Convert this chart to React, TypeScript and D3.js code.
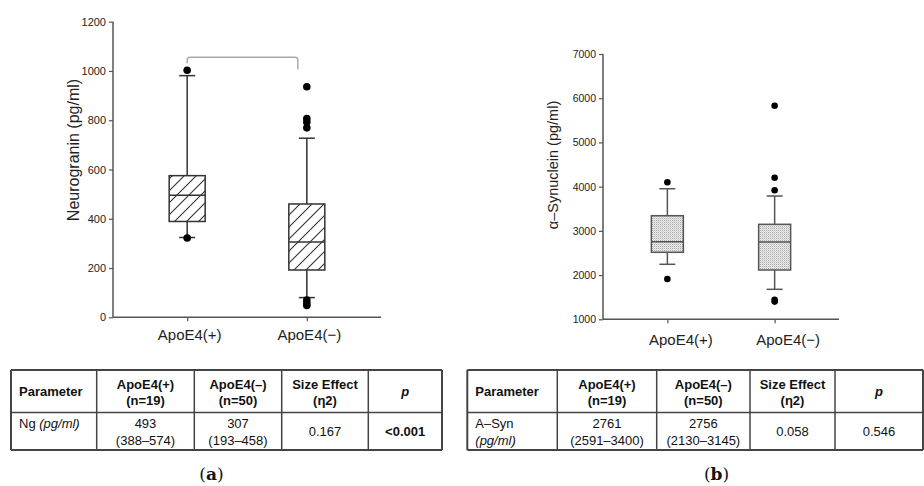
import React, { useRef, useEffect } from 'react';
import * as d3 from 'd3';

// groups and box stats
const groups = ['ApoE4(+)', 'ApoE4(\u2212)'];

const ngQ1 = [389, 192];
const ngMedian = [495, 306];
const ngQ3 = [575, 460];
const ngLow = [324, 80];
const ngHigh = [981, 727];
const ngOutliers = [[1003, 322], [936, 807, 793, 769, 70, 58, 48]];
const ngTicks = [0, 200, 400, 600, 800, 1000, 1200];

const synQ1 = [2515, 2115];
const synMedian = [2755, 2748];
const synQ3 = [3343, 3148];
const synLow = [2244, 1678];
const synHigh = [3953, 3788];
const synOutliers = [[4098, 1911], [5830, 4202, 3917, 1440, 1400]];
const synTicks = [1000, 2000, 3000, 4000, 5000, 6000, 7000];

// table contents
const tableHeader = [['Parameter'], ['ApoE4(+)', '(n=19)'], ['ApoE4(\u2013)', '(n=50)'], ['Size Effect', '(\u03b72)'], ['p']];
const ngRow = [['Ng ', '(pg/ml)'], ['493', '(388\u2013574)'], ['307', '(193\u2013458)'], ['0.167'], ['<0.001']];
const synRow = [['A\u2013Syn', '(pg/ml)'], ['2761', '(2591\u20133400)'], ['2756', '(2130\u20133145)'], ['0.058'], ['0.546']];

const SANS = '"Liberation Sans", Arial, sans-serif';

export default function App() {
    const svgRef = useRef(null);

    useEffect(() => {
        const svg = d3.select(svgRef.current);
        svg.selectAll('*').remove();

        // patterns
        const defs = svg.append('defs');
        const hatch = defs.append('pattern')
            .attr('id', 'hatch')
            .attr('patternUnits', 'userSpaceOnUse')
            .attr('width', 12).attr('height', 12);
        hatch.append('rect').attr('width', 12).attr('height', 12).attr('fill', '#fff');
        hatch.append('path')
            .attr('d', 'M0,12 L12,0 M-3,3 L3,-3 M9,15 L15,9')
            .attr('stroke', '#333').attr('stroke-width', 1.1);

        const stip = defs.append('pattern')
            .attr('id', 'stipple')
            .attr('patternUnits', 'userSpaceOnUse')
            .attr('width', 2).attr('height', 2);
        stip.append('rect').attr('width', 2).attr('height', 2).attr('fill', '#ececec');
        stip.append('rect').attr('width', 1).attr('height', 1).attr('fill', '#a8a8a8');
        stip.append('rect').attr('x', 1).attr('y', 1).attr('width', 1).attr('height', 1).attr('fill', '#d4d4d4');

        const drawBoxChart = (opt) => {
            const g = svg.append('g');
            const {x, y} = opt;
            const axisColor = '#555';

            // y axis
            const yAxis = g.append('g').attr('transform', `translate(${opt.left},0)`)
                .call(d3.axisLeft(y).tickValues(opt.ticks).tickSize(4).tickPadding(3).tickFormat(d3.format('d')));
            yAxis.select('.domain').attr('stroke', axisColor).attr('stroke-width', 1.5)
                .attr('d', `M0,${y.range()[0]}V${y.range()[1]}`);
            yAxis.selectAll('.tick line').attr('stroke', axisColor).attr('stroke-width', 1.2);
            yAxis.selectAll('.tick text').attr('font-family', SANS).attr('font-size', opt.tickFont).attr('fill', '#222');

            // x axis
            const xAxis = g.append('g').attr('transform', `translate(0,${y.range()[0]})`)
                .call(d3.axisBottom(x).tickSize(4).tickPadding(8).tickSizeOuter(0));
            xAxis.select('.domain').attr('stroke', axisColor).attr('stroke-width', 1.5)
                .attr('d', `M${opt.left},0H${x.range()[1]}`);
            xAxis.selectAll('.tick line').attr('stroke', axisColor).attr('stroke-width', 1.2);
            xAxis.selectAll('.tick text')
                .attr('font-family', SANS).attr('font-size', 15).attr('fill', '#222')
                .attr('dy', opt.xLabelDy).attr('dx', opt.xLabelDx);

            // y title
            g.append('text')
                .attr('transform', `translate(${opt.titleX},${opt.titleY}) rotate(-90)`)
                .attr('text-anchor', 'middle')
                .attr('font-family', SANS).attr('font-size', opt.titleFont).attr('fill', '#222')
                .text(opt.title);

            groups.forEach((grp, i) => {
                const cx = x(grp);
                const hw = opt.boxWidth / 2;
                // whiskers
                g.append('line')
                    .attr('x1', cx).attr('x2', cx)
                    .attr('y1', y(opt.high[i])).attr('y2', y(opt.q3[i]))
                    .attr('stroke', opt.lineColor).attr('stroke-width', 1.5);
                g.append('line')
                    .attr('x1', cx).attr('x2', cx)
                    .attr('y1', y(opt.q1[i])).attr('y2', y(opt.low[i]))
                    .attr('stroke', opt.lineColor).attr('stroke-width', 1.5);
                [opt.high[i], opt.low[i]].forEach(v => {
                    g.append('line')
                        .attr('x1', cx - 8).attr('x2', cx + 8)
                        .attr('y1', y(v)).attr('y2', y(v))
                        .attr('stroke', opt.lineColor).attr('stroke-width', 1.5);
                });
                // box
                g.append('rect')
                    .attr('x', cx - hw).attr('width', opt.boxWidth)
                    .attr('y', y(opt.q3[i])).attr('height', y(opt.q1[i]) - y(opt.q3[i]))
                    .attr('fill', opt.fill).attr('stroke', opt.lineColor).attr('stroke-width', 1.5);
                g.append('line')
                    .attr('x1', cx - hw).attr('x2', cx + hw)
                    .attr('y1', y(opt.median[i])).attr('y2', y(opt.median[i]))
                    .attr('stroke', opt.lineColor).attr('stroke-width', 1.5);
                // outliers
                g.selectAll(null).data(opt.outliers[i]).join('circle')
                    .attr('cx', cx).attr('cy', d => y(d)).attr('r', opt.dotR)
                    .attr('fill', '#000');
            });
            return g;
        };

        // (a) neurogranin
        const xA = d3.scalePoint().domain(groups).range([113, 381]).padding(0.62);
        const yA = d3.scaleLinear().domain([0, 1200]).range([317.3, 21.7]);
        const gA = drawBoxChart({
            x: xA, y: yA, left: 113, ticks: ngTicks, tickFont: 11,
            q1: ngQ1, median: ngMedian, q3: ngQ3, low: ngLow, high: ngHigh, outliers: ngOutliers,
            boxWidth: 36, fill: 'url(#hatch)', lineColor: '#333', dotR: 3.8,
            title: 'Neurogranin  (pg/ml)', titleX: 79, titleY: 150, titleFont: 16,
            xLabelDy: '0.71em', xLabelDx: 2,
        });
        // significance bracket
        const bx1 = xA(groups[0]), bx2 = xA(groups[1]) - 9, by = 57.3;
        gA.append('path')
            .attr('d', `M${bx1},${by + 6}V${by + 3}Q${bx1},${by} ${bx1 + 3},${by}H${bx2 - 3}Q${bx2},${by} ${bx2},${by + 3}V${by + 12}`)
            .attr('fill', 'none').attr('stroke', '#aaa').attr('stroke-width', 1.5);

        // (b) alpha-synuclein
        const xB = d3.scalePoint().domain(groups).range([603, 839]).padding(0.6);
        const yB = d3.scaleLinear().domain([1000, 7000]).range([319.3, 54]);
        drawBoxChart({
            x: xB, y: yB, left: 603, ticks: synTicks, tickFont: 10.5,
            q1: synQ1, median: synMedian, q3: synQ3, low: synLow, high: synHigh, outliers: synOutliers,
            boxWidth: 32, fill: 'url(#stipple)', lineColor: '#555', dotR: 3.3,
            title: '\u03b1\u2013Synuclein  (pg/ml)', titleX: 558, titleY: 165, titleFont: 14.5,
            xLabelDy: '0.9em', xLabelDx: 13,
        });

        // tables
        const drawTable = (cols, row, firstItalicOnly) => {
            const g = svg.append('g');
            const top = 370, mid = 412.5, bottom = 450;
            const hLines = [top, mid, bottom];
            g.selectAll('line.h').data(hLines).join('line')
                .attr('x1', cols[0]).attr('x2', cols[cols.length - 1])
                .attr('y1', d => d).attr('y2', d => d)
                .attr('stroke', '#444').attr('stroke-width', (d, i) => i === 1 ? 1.5 : 2);
            g.selectAll('line.v').data(cols).join('line')
                .attr('x1', d => d).attr('x2', d => d)
                .attr('y1', top).attr('y2', bottom)
                .attr('stroke', '#444').attr('stroke-width', (d, i) => (i === 0 || i === cols.length - 1) ? 2 : 1.5);

            const txt = (x, yy, s, anchor, weight, style) => g.append('text')
                .attr('x', x).attr('y', yy).attr('text-anchor', anchor)
                .attr('font-family', SANS).attr('font-size', 13).attr('fill', '#111')
                .attr('font-weight', weight).attr('font-style', style).text(s);

            tableHeader.forEach((lines, c) => {
                const cx = c === 0 ? cols[0] + 8 : (cols[c] + cols[c + 1]) / 2;
                const anchor = c === 0 ? 'start' : 'middle';
                const style = c === 4 ? 'italic' : 'normal';
                if (lines.length === 1) txt(cx, 396, lines[0], anchor, 'bold', style);
                else {
                    txt(cx, 388.5, lines[0], anchor, 'bold', style);
                    txt(cx, 404.5, lines[1], anchor, 'bold', style);
                }
            });

            row.forEach((lines, c) => {
                const cx = c === 0 ? cols[0] + 8 : (cols[c] + cols[c + 1]) / 2;
                const anchor = c === 0 ? 'start' : 'middle';
                const weight = (c === 4 && lines[0].startsWith('<')) ? 'bold' : 'normal';
                if (c === 0) {
                    if (firstItalicOnly) {
                        const t = txt(cx, 427.5, lines[0], anchor, 'normal', 'normal');
                        t.append('tspan').attr('font-style', 'italic').text(lines[1]);
                    } else {
                        txt(cx, 427.5, lines[0], anchor, 'normal', 'normal');
                        txt(cx, 444.5, lines[1], anchor, 'normal', 'italic');
                    }
                } else if (lines.length === 1) {
                    txt(cx, 436, lines[0], anchor, weight, 'normal');
                } else {
                    txt(cx, 427.5, lines[0], anchor, weight, 'normal');
                    txt(cx, 444.5, lines[1], anchor, weight, 'normal');
                }
            });
        };
        drawTable([11, 96.7, 194.3, 281.7, 368.3, 442], ngRow, true);
        drawTable([467.3, 557.3, 656.7, 750, 835, 923], synRow, false);

        // panel labels
        const panel = (x, letter) => {
            const t = svg.append('text')
                .attr('x', x).attr('y', 480).attr('text-anchor', 'middle')
                .attr('font-family', '"DejaVu Serif", "Liberation Serif", serif')
                .attr('font-size', 17).attr('fill', '#111');
            t.append('tspan').text('(');
            t.append('tspan').attr('font-weight', 'bold').text(letter);
            t.append('tspan').text(')');
        };
        panel(211.5, 'a');
        panel(716.5, 'b');
    }, []);

    return (
        <svg
            ref={svgRef}
            width={924}
            height={486}
            style={{position: 'absolute', left: 0, top: 0, background: '#fff'}}
        />
    );
}
